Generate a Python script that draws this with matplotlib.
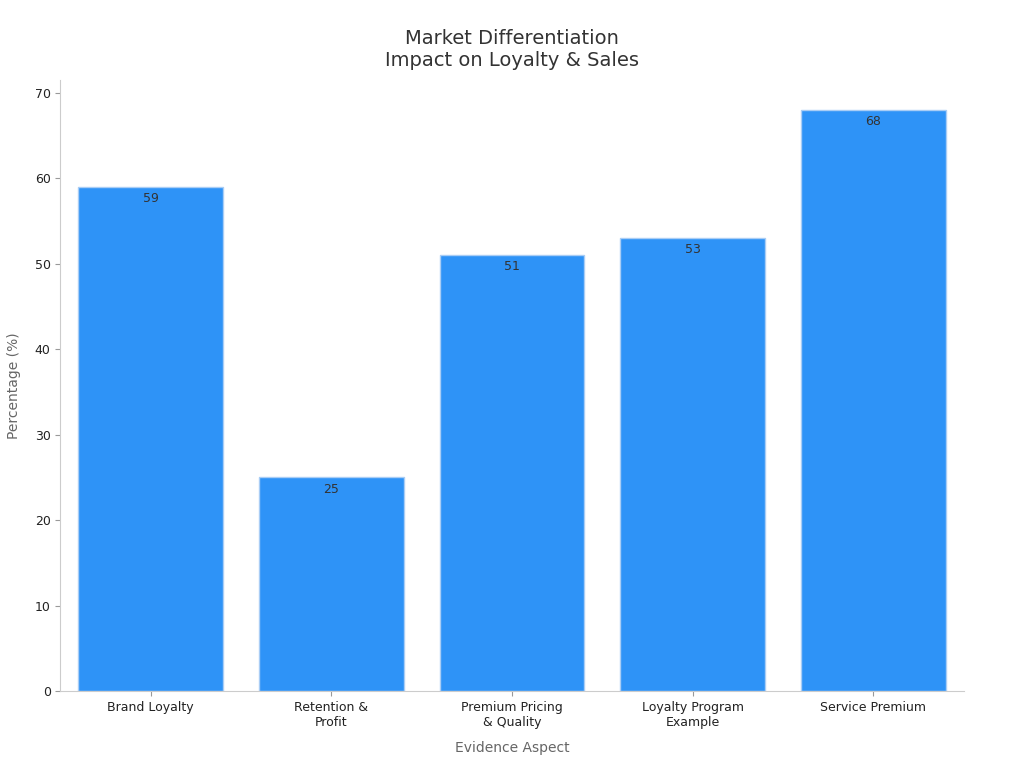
import matplotlib
matplotlib.use("Agg")
import matplotlib.pyplot as plt

categories = ["Brand Loyalty", "Retention &\nProfit", "Premium Pricing\n& Quality", "Loyalty Program\nExample", "Service Premium"]
values = [59, 25, 51, 53, 68]

plt.rcParams['font.family'] = ['DejaVu Sans']
fig = plt.figure(figsize=(10.24, 7.68), dpi=100)
ax = fig.add_axes([0.059, 0.1, 0.882, 0.796])

bars = ax.bar(range(len(values)), values, width=0.8, color="#2e93f7", edgecolor="#a9cdf5", linewidth=1)
for i, v in enumerate(values):
    ax.text(i, v - 0.6, str(v), ha="center", va="top", fontsize=9, color="#333333")

ax.set_xlim(-0.5, 4.5)
ax.set_ylim(0, 71.5)
ax.set_xticks(range(len(values)))
ax.set_xticklabels(categories, fontsize=9, color="#222222")
ax.tick_params(axis="y", labelsize=9, colors="#222222")
ax.tick_params(axis="both", color="#999999")
for s in ["top", "right"]:
    ax.spines[s].set_visible(False)
for s in ["left", "bottom"]:
    ax.spines[s].set_color("#cccccc")

ax.set_xlabel("Evidence Aspect", fontsize=10, color="#666666", labelpad=9)
ax.set_ylabel("Percentage (%)", fontsize=10, color="#666666", labelpad=10)
ax.set_title("Market Differentiation\nImpact on Loyalty & Sales", fontsize=14, color="#333333", pad=10)

fig.savefig("out.png", dpi=100)
